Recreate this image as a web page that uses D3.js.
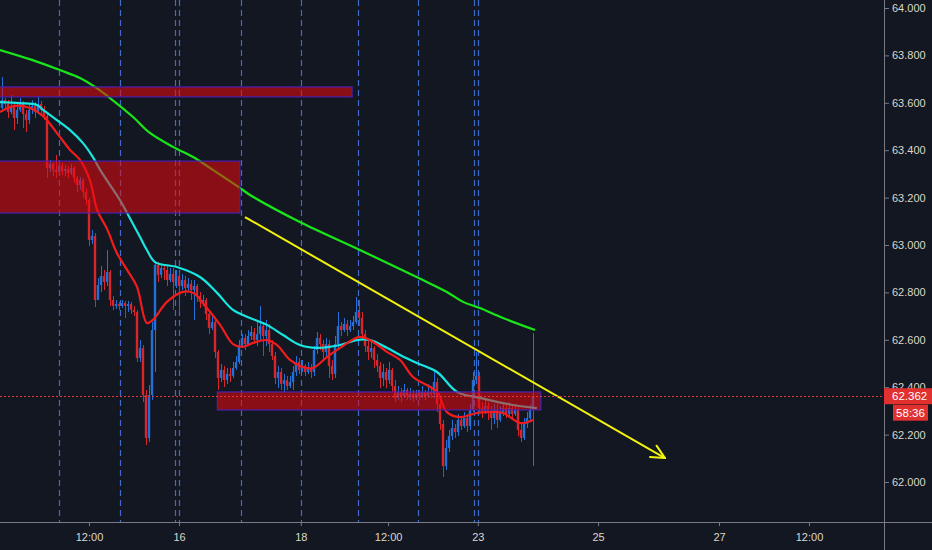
<!DOCTYPE html>
<html lang="en">
<head>
<meta charset="UTF-8">
<title>H1 price chart</title>
<script src="https://d3js.org/d3.v7.min.js"></script>
<style>
    html, body { margin: 0; padding: 0; background: #131722; }
    svg { display: block; font-family: "Liberation Sans", Arial, sans-serif; }
    .axis text { fill: #dcd8c8; font-size: 11px; }
    .axis line { stroke: #787b86; }
</style>
</head>
<body>
<svg width="932" height="550"></svg>
<script>

// ---- data ----
const firstOpen = 63.578;
const closes = [
    63.612, 63.595, 63.561, 63.587, 63.536, 63.570, 63.595, 63.553, 63.527, 63.570, 63.587, 63.561, 63.595, 63.570, 63.544,
    63.325, 63.342, 63.317, 63.308, 63.334, 63.312, 63.321, 63.304, 63.325, 63.283, 63.253, 63.274, 63.224, 63.190, 63.021, 63.038,
    62.768, 62.831, 62.869, 62.844, 62.886, 62.768, 62.743, 62.751, 62.743, 62.755, 62.743, 62.751, 62.726, 62.717, 62.523, 62.565, 62.367, 62.186, 62.367, 62.641,
    62.916, 62.874, 62.903, 62.895, 62.852, 62.878, 62.844, 62.869, 62.827, 62.852, 62.819, 62.836, 62.810, 62.827, 62.785, 62.760, 62.768, 62.709, 62.650, 62.675,
    62.549, 62.439, 62.473, 62.430, 62.456, 62.448, 62.481, 62.506, 62.578, 62.608, 62.582, 62.616, 62.633, 62.599, 62.624, 62.658, 62.616, 62.641, 62.582, 62.532,
    62.439, 62.464, 62.414, 62.430, 62.405, 62.422, 62.464, 62.506, 62.473, 62.490, 62.464, 62.481, 62.464, 62.557, 62.608, 62.582, 62.549, 62.582, 62.490, 62.456,
    62.582, 62.658, 62.641, 62.667, 62.641, 62.658, 62.675, 62.717, 62.692, 62.624, 62.574, 62.549, 62.565, 62.515, 62.490, 62.439, 62.464, 62.430, 62.473, 62.405,
    62.355, 62.380, 62.363, 62.388, 62.363, 62.371, 62.355, 62.371, 62.363, 62.380, 62.363, 62.380, 62.371, 62.422, 62.329, 62.245, 62.067, 62.143, 62.194, 62.228,
    62.211, 62.262, 62.236, 62.270, 62.236, 62.304, 62.430, 62.448, 62.312, 62.296, 62.321, 62.296, 62.270, 62.304, 62.262, 62.296, 62.312, 62.287, 62.312, 62.287,
    62.304, 62.220, 62.186, 62.245, 62.270, 62.304, 62.362
];
const highs = [
    63.709, 63.620, 63.612, 63.633, 63.595, 63.604, 63.620, 63.608, 63.570, 63.599, 63.612, 63.604, 63.629, 63.608, 63.587,
    63.553, 63.359, 63.350, 63.380, 63.359, 63.346, 63.338, 63.334, 63.342, 63.334, 63.291, 63.287, 63.283, 63.241, 63.199, 63.063,
    63.051, 62.861, 62.911, 62.895, 62.979, 62.895, 62.785, 62.768, 62.760, 62.768, 62.764, 62.764, 62.760, 62.743, 62.726, 62.599, 62.578, 62.388, 62.409, 62.675,
    62.928, 62.928, 62.920, 62.920, 62.911, 62.903, 62.903, 62.895, 62.886, 62.878, 62.869, 62.861, 62.852, 62.852, 62.836, 62.802, 62.789, 62.777, 62.726, 62.700,
    62.684, 62.557, 62.498, 62.490, 62.481, 62.481, 62.506, 62.532, 62.599, 62.624, 62.624, 62.641, 62.658, 62.650, 62.684, 62.743, 62.675, 62.684, 62.667, 62.599,
    62.549, 62.490, 62.481, 62.456, 62.448, 62.448, 62.490, 62.532, 62.523, 62.515, 62.498, 62.506, 62.498, 62.574, 62.633, 62.624, 62.599, 62.608, 62.599, 62.515,
    62.616, 62.717, 62.675, 62.692, 62.684, 62.684, 62.700, 62.781, 62.768, 62.717, 62.641, 62.599, 62.591, 62.574, 62.540, 62.506, 62.498, 62.481, 62.506, 62.481,
    62.430, 62.405, 62.397, 62.414, 62.397, 62.397, 62.388, 62.388, 62.388, 62.405, 62.388, 62.414, 62.405, 62.473, 62.439, 62.346, 62.262, 62.177, 62.220, 62.262,
    62.245, 62.287, 62.279, 62.296, 62.287, 62.329, 62.464, 62.549, 62.464, 62.338, 62.346, 62.338, 62.321, 62.329, 62.329, 62.321, 62.338, 62.329, 62.338, 62.329,
    62.329, 62.321, 62.245, 62.270, 62.296, 62.329, 62.629
];
const lows = [
    63.561, 63.570, 63.536, 63.553, 63.485, 63.511, 63.561, 63.494, 63.477, 63.511, 63.553, 63.536, 63.553, 63.544, 63.527,
    63.283, 63.308, 63.291, 63.283, 63.300, 63.296, 63.291, 63.283, 63.296, 63.262, 63.224, 63.232, 63.199, 63.169, 62.996, 63.004,
    62.739, 62.768, 62.802, 62.810, 62.827, 62.743, 62.726, 62.730, 62.726, 62.734, 62.692, 62.717, 62.709, 62.700, 62.506, 62.506, 62.338, 62.156, 62.169, 62.346,
    62.464, 62.844, 62.861, 62.852, 62.827, 62.844, 62.726, 62.819, 62.717, 62.810, 62.785, 62.802, 62.768, 62.684, 62.760, 62.734, 62.743, 62.684, 62.624, 62.641,
    62.523, 62.388, 62.422, 62.401, 62.414, 62.422, 62.439, 62.473, 62.498, 62.565, 62.557, 62.574, 62.599, 62.582, 62.574, 62.599, 62.532, 62.574, 62.549, 62.515,
    62.414, 62.397, 62.388, 62.380, 62.388, 62.397, 62.388, 62.448, 62.456, 62.464, 62.448, 62.456, 62.439, 62.448, 62.540, 62.557, 62.515, 62.532, 62.439, 62.430,
    62.439, 62.565, 62.616, 62.633, 62.616, 62.633, 62.641, 62.667, 62.658, 62.599, 62.549, 62.515, 62.523, 62.481, 62.464, 62.397, 62.405, 62.397, 62.414, 62.380,
    62.338, 62.346, 62.338, 62.355, 62.346, 62.346, 62.338, 62.346, 62.346, 62.355, 62.346, 62.355, 62.355, 62.355, 62.296, 62.220, 62.021, 62.051, 62.127, 62.177,
    62.186, 62.194, 62.220, 62.228, 62.211, 62.220, 62.296, 62.414, 62.287, 62.270, 62.287, 62.262, 62.220, 62.245, 62.228, 62.253, 62.279, 62.270, 62.279, 62.270,
    62.279, 62.194, 62.169, 62.177, 62.228, 62.262, 62.067
];

// moving averages, [bar index, price]
const maFast = [[-0.7,63.561],[4.3,63.587],[9.3,63.578],[13.7,63.544],[19.3,63.456],[22.7,63.401],[26,63.359],[29.3,63.274],
    [31.7,63.148],[35,63.068],[38.3,62.966],[41.7,62.895],[45,62.823],[48.3,62.671],[50.3,62.684],[55,62.760],[60.3,62.802],
    [63.7,62.798],[68.3,62.734],[72.7,62.663],[77,62.582],[80.3,62.570],[83.7,62.587],[88.3,62.599],[91.7,62.578],[96,62.515],
    [100.3,62.485],[103.7,62.481],[108.3,62.527],[112.7,62.566],[119.3,62.612],[123.7,62.591],[128.3,62.549],[132.7,62.515],
    [137,62.443],[142.7,62.401],[145.3,62.376],[148.3,62.295],[152.7,62.274],[158.3,62.291],[161.7,62.295],[167,62.291],
    [172.7,62.249],[177,62.262]];
const maMid = [[-0.7,63.603],[6,63.599],[11.7,63.591],[13.7,63.570],[18.3,63.527],[22.7,63.485],[27,63.430],[30.3,63.371],
    [32.7,63.317],[39.3,63.190],[41.7,63.135],[46,63.034],[48.3,62.979],[51,62.928],[58.3,62.907],[66,62.865],[71.7,62.798],
    [77,62.726],[82.7,62.692],[88.3,62.663],[93.7,62.620],[99.3,62.578],[105,62.566],[112.7,62.578],[118.3,62.599],
    [122.7,62.599],[128.3,62.566],[132.7,62.536],[138.3,62.502],[145,62.464],[151.7,62.380],[159.3,62.355],[170.3,62.325],
    [178.3,62.312]];
const maSlow = [[-0.7,63.823],[10,63.781],[19.3,63.738],[26,63.705],[31,63.667],[36,63.620],[43.7,63.540],[49.3,63.473],
    [57,63.414],[63.7,63.371],[70.3,63.317],[79.3,63.241],[82.7,63.211],[99.3,63.097],[119.3,62.979],[140.3,62.852],
    [148.3,62.802],[153.7,62.760],[159.3,62.734],[167,62.692],[177.7,62.641]];

// supply / demand boxes
const zoneStart = [-5, -5, 71.8];
const zoneEnd = [116.7, 79.3, 179.6];
const zoneTop = [63.667, 63.354, 62.380];
const zoneBottom = [63.625, 63.135, 62.304];

// trend arrow
const trendIdx = [81, 221];
const trendPrice = [63.118, 62.101];

// session separators (bar index)
const sessionIdx = [19.1, 39.2, 57.8, 59, 79.6, 99.6, 118.6, 138.8, 157.2, 158.6];

// axis ticks
const timeTickIdx = [29, 59, 99.6, 128.7, 158.6, 198.7, 239, 269];
const timeTickLabels = ["12:00", "16", "18", "12:00", "23", "25", "27", "12:00"];
const priceTicks = [62.0, 62.2, 62.4, 62.6, 62.8, 63.0, 63.2, 63.4, 63.6, 63.8, 64.0];

const lastPrice = 62.362;
const countdown = "58:36";

// ---- layout ----
const W = 932, H = 550;
const plotRight = 884, plotBottom = 522;
const upColor = "#2270d8", downColor = "#d8262c";

let svg = d3.select("svg");
svg.append("rect").attr("width", W).attr("height", H).attr("fill", "#131722");

let xScale = d3.scaleLinear().domain([0, 294]).range([2, plotRight]);
let yScale = d3.scaleLinear().domain([62, 64]).range([482, 8]);

svg.append("defs").append("clipPath").attr("id", "plotClip")
    .append("rect").attr("x", 0).attr("y", 0).attr("width", plotRight).attr("height", plotBottom);

let plot = svg.append("g").attr("clip-path", "url(#plotClip)");

// dashed session lines
plot.selectAll(".sep").data(sessionIdx).enter().append("line")
    .attr("x1", d => Math.round(xScale(d)) + 0.5).attr("x2", d => Math.round(xScale(d)) + 0.5)
    .attr("y1", 0).attr("y2", plotBottom)
    .attr("stroke", "#3f6cc8").attr("stroke-width", 1.2).attr("stroke-dasharray", "6,4");

// candles
let bars = closes.map((c, i) => ({i: i, o: i ? closes[i - 1] : firstOpen, c: c, h: highs[i], l: lows[i]}));
let candles = plot.append("g");
candles.selectAll(".wick").data(bars).enter().append("rect")
    .attr("shape-rendering", "crispEdges")
    .attr("x", d => xScale(d.i) - 0.5).attr("width", 1)
    .attr("y", d => yScale(d.h)).attr("height", d => Math.max(1, yScale(d.l) - yScale(d.h)))
    .attr("fill", d => d.c >= d.o ? upColor : downColor);
candles.selectAll(".body").data(bars).enter().append("rect")
    .attr("x", d => xScale(d.i) - 1.2).attr("width", 2.4)
    .attr("y", d => yScale(Math.max(d.o, d.c)))
    .attr("height", d => Math.max(1, Math.abs(yScale(d.o) - yScale(d.c))))
    .attr("fill", d => d.c >= d.o ? upColor : downColor);

// moving averages
let maLine = d3.line().x(d => xScale(d[0])).y(d => yScale(d[1])).curve(d3.curveCatmullRom.alpha(0.5));
[[maSlow, "#19e619"], [maMid, "#19e6e0"], [maFast, "#f21c1c"]].forEach(function (m) {
    plot.append("path").datum(m[0]).attr("d", maLine)
        .attr("fill", "none").attr("stroke", m[1]).attr("stroke-width", 2.2);
});

// zones
plot.selectAll(".zone").data(zoneStart).enter().append("rect")
    .attr("x", (d, i) => xScale(d)).attr("width", (d, i) => xScale(zoneEnd[i]) - xScale(d))
    .attr("y", (d, i) => yScale(zoneTop[i])).attr("height", (d, i) => yScale(zoneBottom[i]) - yScale(zoneTop[i]))
    .attr("fill", "rgb(237,7,12)").attr("fill-opacity", 0.55)
    .attr("stroke", "#4b22b0").attr("stroke-width", 1.2);

// trend arrow
let tx = trendIdx.map(d => xScale(d)), ty = trendPrice.map(d => yScale(d));
plot.append("line").attr("x1", tx[0]).attr("y1", ty[0]).attr("x2", tx[1]).attr("y2", ty[1])
    .attr("stroke", "#f2f20a").attr("stroke-width", 2);
let ang = Math.atan2(ty[1] - ty[0], tx[1] - tx[0]);
[0.45, -0.45].forEach(function (a) {
    plot.append("line").attr("x1", tx[1]).attr("y1", ty[1])
        .attr("x2", tx[1] - 15 * Math.cos(ang + a)).attr("y2", ty[1] - 15 * Math.sin(ang + a))
        .attr("stroke", "#f2f20a").attr("stroke-width", 2).attr("stroke-linecap", "round");
});

// last price dotted line
plot.append("line").attr("x1", 0).attr("x2", plotRight)
    .attr("y1", Math.round(yScale(lastPrice)) + 0.5).attr("y2", Math.round(yScale(lastPrice)) + 0.5)
    .attr("stroke", "#e8353a").attr("stroke-width", 1).attr("stroke-dasharray", "2,2");

// axes
let xAxis = svg.append("g").attr("class", "axis")
    .attr("transform", "translate(0," + plotBottom + ")")
    .call(d3.axisBottom(xScale).tickValues(timeTickIdx).tickFormat((d, i) => timeTickLabels[i]).tickSize(4).tickPadding(7));
xAxis.select(".domain").remove();

let yAxis = svg.append("g").attr("class", "axis")
    .attr("transform", "translate(" + plotRight + ",0)")
    .call(d3.axisRight(yScale).tickValues(priceTicks).tickFormat(d3.format(".3f")).tickSize(5).tickPadding(3));
yAxis.select(".domain").remove();

svg.append("line").attr("x1", 0).attr("x2", W).attr("y1", plotBottom + 0.5).attr("y2", plotBottom + 0.5)
    .attr("stroke", "#787b86");
svg.append("line").attr("x1", plotRight + 0.5).attr("x2", plotRight + 0.5).attr("y1", 0).attr("y2", H)
    .attr("stroke", "#787b86");

// last price labels (cover the 62.400 tick, as on the original)
let ly = yScale(lastPrice);
svg.append("rect").attr("x", plotRight).attr("y", ly - 8).attr("width", W - plotRight).attr("height", 16).attr("fill", "#e0302f");
svg.append("text").attr("x", plotRight + 8).attr("y", ly).attr("dy", "0.35em")
    .attr("fill", "#ffffff").attr("font-size", 11.5).text(d3.format(".3f")(lastPrice));
svg.append("rect").attr("x", plotRight + 9).attr("y", ly + 8.5).attr("width", 35).attr("height", 16).attr("fill", "#e0302f");
svg.append("text").attr("x", plotRight + 26.5).attr("y", ly + 16.5).attr("dy", "0.35em").attr("text-anchor", "middle")
    .attr("fill", "#ffffff").attr("font-size", 11.5).text(countdown);

</script>
</body>
</html>
